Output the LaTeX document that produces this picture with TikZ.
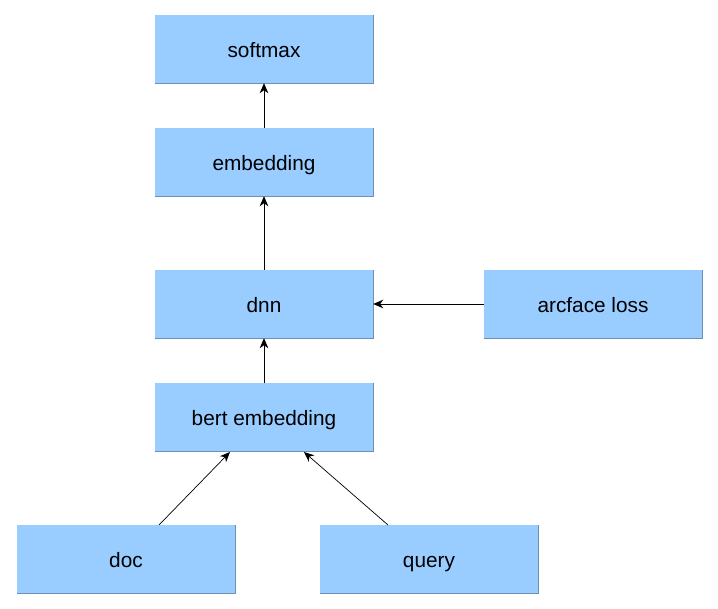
\documentclass[tikz,border=0pt]{standalone}
\usepackage{fontspec}
\setmainfont{Liberation Sans}
\usetikzlibrary{arrows.meta}
\definecolor{boxfill}{HTML}{99CCFF}
\definecolor{boxedge}{HTML}{6F8FB8}
\begin{document}
\begin{tikzpicture}[x=1pt,y=1pt,
  box/.style={fill=boxfill, draw=none, minimum width=218pt, minimum height=68pt, inner sep=0pt,
    text height=17pt, text depth=0pt, font=\fontsize{20.8}{24}\selectfont,
    append after command={
      \pgfextra{\draw[boxedge, line width=1.2pt] (\tikzlastnode.north east) -- (\tikzlastnode.south east) -- (\tikzlastnode.south west);}
    }},
  conn/.style={draw=black, line width=0.9pt, -{Stealth[length=10pt,width=8.5pt,inset=3pt]}}]
\useasboundingbox (0,0) rectangle (718,609);
\node[box] (softmax) at (264,560) {softmax};
\node[box] (emb) at (264,447) {embedding};
\node[box] (dnn) at (264,305) {dnn};
\node[box] (arc) at (593,305) {arcface loss};
\node[box] (bert) at (264,192) {bert embedding};
\node[box] (doc) at (126,50) {doc};
\node[box] (query) at (429,50) {query};
\coordinate (docs) at (159,84);
\coordinate (docE) at (230,157);
\coordinate (qs) at (388,84);
\coordinate (qE) at (304,157);
\draw[conn] (emb.north) -- (softmax.south);
\draw[conn] (dnn.north) -- (emb.south);
\draw[conn] (bert.north) -- (dnn.south);
\draw[conn] (arc.west) -- (dnn.east);
\draw[conn, line width=0.7pt] (docs) -- (docE);
\draw[conn, line width=0.7pt] (qs) -- (qE);
\end{tikzpicture}
\end{document}
